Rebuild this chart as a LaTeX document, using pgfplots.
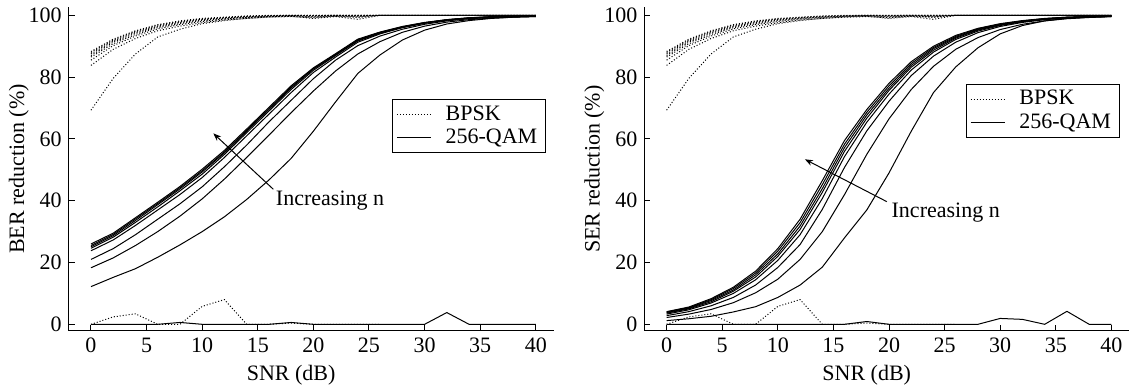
\documentclass[border=0pt]{standalone}
\usepackage{fontspec}
\setmainfont{Liberation Serif}
\usepackage{pgfplots}
\usepackage{pgfplotstable}
\usetikzlibrary{arrows.meta}
\pgfplotsset{compat=1.18}

% BER reduction for 256-QAM, one column per n (q1 = n=1 ... q9 = n=9)
\pgfplotstableread{
x  q1  q2   q3   q4   q5   q6   q7   q8   q9
0  0   12.2 18.3 21.0 23.8 24.6 25.1 25.5 26.0
2  0   15.2 21.5 24.5 27.3 28.2 28.7 29.1 29.5
4  0   18.0 25.5 29.0 32.0 33.0 33.6 34.1 34.5
6  0   21.7 30.0 34.0 37.0 38.0 38.7 39.1 39.5
8  0.6 25.7 35.0 39.0 42.0 43.2 43.8 44.2 44.6
10 0   30.0 40.6 44.5 47.5 48.6 49.3 49.7 50.2
12 0   34.8 47.0 51.0 54.0 55.0 55.5 55.8 56.3
14 0   40.4 54.0 58.0 61.0 62.0 62.5 62.8 63.2
16 0   46.7 61.2 65.5 68.0 69.0 69.5 69.8 70.2
18 0.6 53.7 68.5 72.5 75.0 76.0 76.5 76.8 77.2
20 0   62.5 75.5 79.5 81.5 82.2 82.6 82.8 83.0
22 0   72.0 82.0 85.5 86.5 87.0 87.2 87.4 87.6
24 0   81.2 87.5 90.2 91.3 91.7 91.9 92.1 92.3
26 0   87.2 91.5 93.3 94.0 94.2 94.4 94.5 94.6
28 0   92.0 94.5 95.5 96.0 96.1 96.2 96.3 96.4
30 0   95.2 96.5 97.1 97.4 97.5 97.6 97.6 97.7
32 3.8 97.2 97.8 98.2 98.4 98.5 98.5 98.6 98.6
34 0   98.3 98.6 98.9 99.0 99.1 99.1 99.2 99.2
36 0   99.0 99.1 99.3 99.4 99.4 99.5 99.5 99.6
38 0   99.4 99.4 99.5 99.6 99.6 99.7 99.7 99.8
40 0   99.6 99.6 99.7 99.7 99.8 99.8 99.8 99.9
}\berqam

% SER reduction for 256-QAM
\pgfplotstableread{
x  q1  q2   q3   q4   q5   q6   q7   q8   q9
0  0   1.2  2.2  2.8  3.3  3.6  3.8  4.0  4.1
2  0   1.8  3.3  4.1  4.7  5.0  5.2  5.4  5.6
4  0   2.6  4.8  6.0  6.9  7.3  7.7  8.0  8.3
6  0   4.0  7.0  8.7  10.0 10.7 11.1 11.6 12.0
8  0   5.7  10.2 12.7 14.4 15.3 16.0 16.6 17.2
10 0   8.7  14.6 18.4 20.7 22.0 22.8 23.7 24.5
12 0   12.7 21.0 25.8 29.0 30.7 31.8 32.9 34.0
14 0   18.5 30.0 37.2 40.7 42.7 43.9 45.2 46.5
16 0   28.0 42.0 50.8 54.3 56.0 57.2 58.3 59.5
18 0.9 37.0 55.0 62.6 65.4 66.7 67.7 68.6 69.5
20 0   49.0 66.5 72.2 74.5 75.7 76.4 77.2 78.0
22 0   62.5 76.0 80.5 82.3 83.2 83.8 84.4 85.0
24 0   75.0 83.5 86.8 88.1 88.7 89.2 89.6 90.0
26 0   83.3 89.0 91.3 92.2 92.6 92.9 93.2 93.5
28 0   89.5 92.8 94.4 94.9 95.2 95.4 95.6 95.8
30 1.9 94.0 95.4 96.4 96.7 96.9 97.0 97.2 97.3
32 1.6 96.7 97.1 97.7 97.9 98.0 98.1 98.2 98.3
34 0   98.2 98.2 98.6 98.7 98.8 98.9 98.9 99.0
36 4.2 99.0 98.9 99.1 99.2 99.3 99.3 99.4 99.4
38 0   99.4 99.3 99.4 99.5 99.5 99.6 99.6 99.6
40 0   99.6 99.6 99.6 99.7 99.7 99.8 99.8 99.8
}\serqam

% BPSK (one bit per symbol, so BER and SER reductions coincide)
\pgfplotstableread{
x  b1  b2   b3   b4   b5   b6   b7   b8   b9
0  0   69.3 83.8 85.5 86.5 87.0 87.5 88.0 88.3
2  2.4 79.6 89.0 90.2 90.8 91.3 91.7 92.0 92.3
4  3.4 87.5 92.5 93.3 93.8 94.2 94.5 94.8 95.0
6  0   93.0 95.0 95.6 96.0 96.3 96.5 96.8 97.0
8  0   95.5 96.5 97.0 97.3 97.6 97.8 98.0 98.2
10 5.8 97.3 97.6 98.0 98.3 98.5 98.7 98.8 99.0
12 8.0 98.3 98.5 98.8 99.0 99.1 99.2 99.3 99.4
14 0   99.0 99.0 99.3 99.4 99.5 99.6 99.7 99.8
16 0   99.4 99.5 99.6 99.7 99.8 99.8 99.9 100
18 0.4 99.6 99.7 99.8 99.9 99.9 100  100  100
20 0   99.2 99.0 99.5 99.6 99.8 99.9 100  100
22 0   99.8 99.6 99.7 99.8 100  100  100  100
24 0   99.5 98.7 99.3 99.6 99.8 100  100  100
26 0   100  100  100  100  100  100  100  100
28 nan 100  100  100  100  100  100  100  100
30 nan 100  100  100  100  100  100  100  100
32 nan 100  100  100  100  100  100  100  100
34 nan 100  100  100  100  100  100  100  100
36 nan 100  100  100  100  100  100  100  100
38 nan 100  100  100  100  100  100  100  100
40 nan 100  100  100  100  100  100  100  100
}\bpsk

\pgfplotsset{
  reduction axis/.style={
    scale only axis, width=242.4pt, height=161.75pt,
    anchor=south west,
    xmin=-2, xmax=41.6, ymin=-2.1, ymax=102.6,
    axis lines=left, axis line style={-, line width=0.5pt},
    tick align=inside, major tick length=3pt,
    tick style={black, line width=0.5pt},
    xtick={0,5,...,40}, ytick={0,20,...,100},
    /pgf/number format/assume math mode=true,
    xlabel={SNR (dB)},
    xlabel style={at={(axis description cs:0.4587,0)}, anchor=center, yshift=-22pt},
    % the label is turned by 90 degrees, so its own y direction points left
    ylabel style={at={(axis description cs:0,0.5)}, anchor=center, yshift=25pt},
    unbounded coords=jump,
    legend cell align=left,
    legend style={draw=black, line width=0.5pt, anchor=north west,
      inner xsep=2pt, inner ysep=1pt, row sep=-1pt,
      /tikz/every odd column/.append style={column sep=5pt}},
  },
  qam/.style={black, line width=0.5pt, forget plot},
  bpskline/.style={black, densely dotted, line width=0.5pt, forget plot},
}

\begin{document}
\begin{tikzpicture}[font=\fontsize{11}{13}\selectfont]
\path[use as bounding box] (0,0) rectangle (565.5pt,195pt);

\begin{axis}[reduction axis, at={(34.38pt,29.6pt)},
  ylabel={BER reduction (\%)},
  legend style={at={(axis cs:27.07,72.9)}}]
  \foreach \c in {b1,b2,b3,b4,b5,b6,b7,b8,b9}{
    \addplot[bpskline] table[x=x, y=\c] {\bpsk};
  }
  \foreach \c in {q1,q2,q3,q4,q5,q6,q7,q8,q9}{
    \addplot[qam] table[x=x, y=\c] {\berqam};
  }
  \addlegendimage{black, densely dotted, line width=0.5pt}
  \addlegendentry{BPSK}
  \addlegendimage{black, line width=0.5pt}
  \addlegendentry{256-QAM}
  \draw[-{Stealth[length=4pt,width=3pt]}, line width=0.5pt]
    (axis cs:16.4,43.7) -- (axis cs:11,61.8);
  \node at (axis cs:21.5,40.2) {Increasing n};
\end{axis}

\begin{axis}[reduction axis, at={(322.2pt,29.6pt)},
  ylabel={SER reduction (\%)},
  legend style={at={(axis cs:26.9,77.8)}}]
  \foreach \c in {b1,b2,b3,b4,b5,b6,b7,b8,b9}{
    \addplot[bpskline] table[x=x, y=\c] {\bpsk};
  }
  \foreach \c in {q1,q2,q3,q4,q5,q6,q7,q8,q9}{
    \addplot[qam] table[x=x, y=\c] {\serqam};
  }
  \addlegendimage{black, densely dotted, line width=0.5pt}
  \addlegendentry{BPSK}
  \addlegendimage{black, line width=0.5pt}
  \addlegendentry{256-QAM}
  \draw[-{Stealth[length=4pt,width=3pt]}, line width=0.5pt]
    (axis cs:19.8,39.7) -- (axis cs:12.44,53.4);
  \node at (axis cs:25.1,36.2) {Increasing n};
\end{axis}
\end{tikzpicture}
\end{document}
